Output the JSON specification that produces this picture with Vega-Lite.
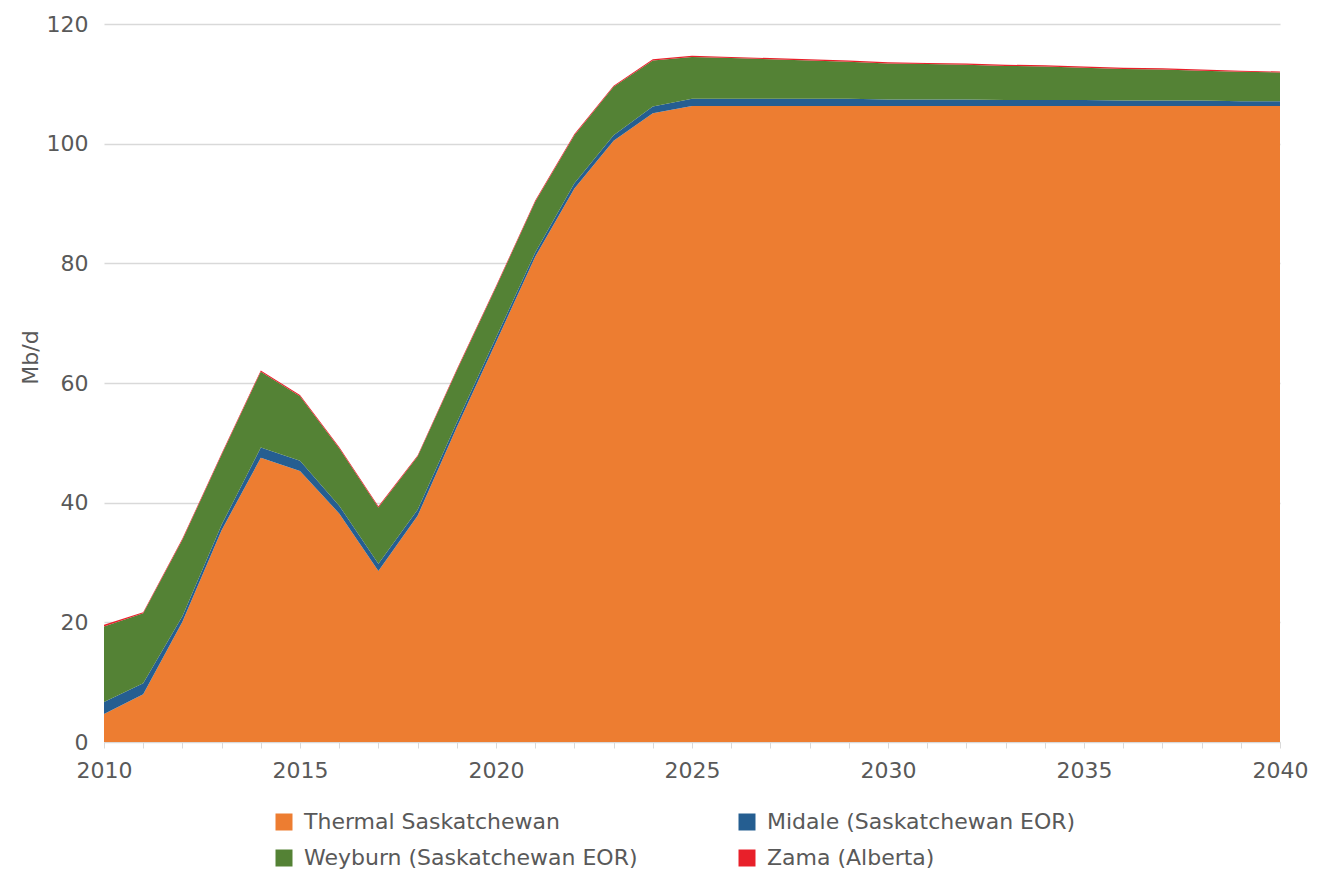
{
  "$schema": "https://vega.github.io/schema/vega-lite/v6.json",
  "width": 1176,
  "height": 718,
  "autosize": {"type": "none"},
  "padding": {"left": 104, "top": 24, "right": 50, "bottom": 136},
  "background": "white",
  "config": {
    "font": "DejaVu Sans",
    "view": {"stroke": null},
    "axis": {"labelFont": "DejaVu Sans", "titleFont": "DejaVu Sans"}
  },
  "data": {
    "values": [
      {"year": 2010, "series": "Thermal Saskatchewan", "rank": 1, "value": 4.7},
      {"year": 2010, "series": "Midale (Saskatchewan EOR)", "rank": 2, "value": 2.0},
      {"year": 2010, "series": "Weyburn (Saskatchewan EOR)", "rank": 3, "value": 12.6},
      {"year": 2010, "series": "Zama (Alberta)", "rank": 4, "value": 0.3},
      {"year": 2011, "series": "Thermal Saskatchewan", "rank": 1, "value": 8.0},
      {"year": 2011, "series": "Midale (Saskatchewan EOR)", "rank": 2, "value": 1.8},
      {"year": 2011, "series": "Weyburn (Saskatchewan EOR)", "rank": 3, "value": 11.7},
      {"year": 2011, "series": "Zama (Alberta)", "rank": 4, "value": 0.2},
      {"year": 2012, "series": "Thermal Saskatchewan", "rank": 1, "value": 20.1},
      {"year": 2012, "series": "Midale (Saskatchewan EOR)", "rank": 2, "value": 0.9},
      {"year": 2012, "series": "Weyburn (Saskatchewan EOR)", "rank": 3, "value": 12.8},
      {"year": 2012, "series": "Zama (Alberta)", "rank": 4, "value": 0.2},
      {"year": 2013, "series": "Thermal Saskatchewan", "rank": 1, "value": 35.4},
      {"year": 2013, "series": "Midale (Saskatchewan EOR)", "rank": 2, "value": 0.9},
      {"year": 2013, "series": "Weyburn (Saskatchewan EOR)", "rank": 3, "value": 11.7},
      {"year": 2013, "series": "Zama (Alberta)", "rank": 4, "value": 0.2},
      {"year": 2014, "series": "Thermal Saskatchewan", "rank": 1, "value": 47.5},
      {"year": 2014, "series": "Midale (Saskatchewan EOR)", "rank": 2, "value": 1.7},
      {"year": 2014, "series": "Weyburn (Saskatchewan EOR)", "rank": 3, "value": 12.7},
      {"year": 2014, "series": "Zama (Alberta)", "rank": 4, "value": 0.2},
      {"year": 2015, "series": "Thermal Saskatchewan", "rank": 1, "value": 45.3},
      {"year": 2015, "series": "Midale (Saskatchewan EOR)", "rank": 2, "value": 1.7},
      {"year": 2015, "series": "Weyburn (Saskatchewan EOR)", "rank": 3, "value": 10.8},
      {"year": 2015, "series": "Zama (Alberta)", "rank": 4, "value": 0.2},
      {"year": 2016, "series": "Thermal Saskatchewan", "rank": 1, "value": 38.2},
      {"year": 2016, "series": "Midale (Saskatchewan EOR)", "rank": 2, "value": 1.3},
      {"year": 2016, "series": "Weyburn (Saskatchewan EOR)", "rank": 3, "value": 9.6},
      {"year": 2016, "series": "Zama (Alberta)", "rank": 4, "value": 0.2},
      {"year": 2017, "series": "Thermal Saskatchewan", "rank": 1, "value": 28.6},
      {"year": 2017, "series": "Midale (Saskatchewan EOR)", "rank": 2, "value": 1.2},
      {"year": 2017, "series": "Weyburn (Saskatchewan EOR)", "rank": 3, "value": 9.4},
      {"year": 2017, "series": "Zama (Alberta)", "rank": 4, "value": 0.2},
      {"year": 2018, "series": "Thermal Saskatchewan", "rank": 1, "value": 37.8},
      {"year": 2018, "series": "Midale (Saskatchewan EOR)", "rank": 2, "value": 1.0},
      {"year": 2018, "series": "Weyburn (Saskatchewan EOR)", "rank": 3, "value": 8.9},
      {"year": 2018, "series": "Zama (Alberta)", "rank": 4, "value": 0.2},
      {"year": 2019, "series": "Thermal Saskatchewan", "rank": 1, "value": 52.6},
      {"year": 2019, "series": "Midale (Saskatchewan EOR)", "rank": 2, "value": 0.8},
      {"year": 2019, "series": "Weyburn (Saskatchewan EOR)", "rank": 3, "value": 8.7},
      {"year": 2019, "series": "Zama (Alberta)", "rank": 4, "value": 0.2},
      {"year": 2020, "series": "Thermal Saskatchewan", "rank": 1, "value": 66.8},
      {"year": 2020, "series": "Midale (Saskatchewan EOR)", "rank": 2, "value": 0.8},
      {"year": 2020, "series": "Weyburn (Saskatchewan EOR)", "rank": 3, "value": 8.4},
      {"year": 2020, "series": "Zama (Alberta)", "rank": 4, "value": 0.2},
      {"year": 2021, "series": "Thermal Saskatchewan", "rank": 1, "value": 81.1},
      {"year": 2021, "series": "Midale (Saskatchewan EOR)", "rank": 2, "value": 0.7},
      {"year": 2021, "series": "Weyburn (Saskatchewan EOR)", "rank": 3, "value": 8.5},
      {"year": 2021, "series": "Zama (Alberta)", "rank": 4, "value": 0.2},
      {"year": 2022, "series": "Thermal Saskatchewan", "rank": 1, "value": 92.5},
      {"year": 2022, "series": "Midale (Saskatchewan EOR)", "rank": 2, "value": 0.9},
      {"year": 2022, "series": "Weyburn (Saskatchewan EOR)", "rank": 3, "value": 8.0},
      {"year": 2022, "series": "Zama (Alberta)", "rank": 4, "value": 0.2},
      {"year": 2023, "series": "Thermal Saskatchewan", "rank": 1, "value": 100.5},
      {"year": 2023, "series": "Midale (Saskatchewan EOR)", "rank": 2, "value": 0.9},
      {"year": 2023, "series": "Weyburn (Saskatchewan EOR)", "rank": 3, "value": 8.1},
      {"year": 2023, "series": "Zama (Alberta)", "rank": 4, "value": 0.2},
      {"year": 2024, "series": "Thermal Saskatchewan", "rank": 1, "value": 105.1},
      {"year": 2024, "series": "Midale (Saskatchewan EOR)", "rank": 2, "value": 1.1},
      {"year": 2024, "series": "Weyburn (Saskatchewan EOR)", "rank": 3, "value": 7.7},
      {"year": 2024, "series": "Zama (Alberta)", "rank": 4, "value": 0.2},
      {"year": 2025, "series": "Thermal Saskatchewan", "rank": 1, "value": 106.3},
      {"year": 2025, "series": "Midale (Saskatchewan EOR)", "rank": 2, "value": 1.2},
      {"year": 2025, "series": "Weyburn (Saskatchewan EOR)", "rank": 3, "value": 7.0},
      {"year": 2025, "series": "Zama (Alberta)", "rank": 4, "value": 0.2},
      {"year": 2026, "series": "Thermal Saskatchewan", "rank": 1, "value": 106.3},
      {"year": 2026, "series": "Midale (Saskatchewan EOR)", "rank": 2, "value": 1.2},
      {"year": 2026, "series": "Weyburn (Saskatchewan EOR)", "rank": 3, "value": 6.8},
      {"year": 2026, "series": "Zama (Alberta)", "rank": 4, "value": 0.2},
      {"year": 2027, "series": "Thermal Saskatchewan", "rank": 1, "value": 106.3},
      {"year": 2027, "series": "Midale (Saskatchewan EOR)", "rank": 2, "value": 1.2},
      {"year": 2027, "series": "Weyburn (Saskatchewan EOR)", "rank": 3, "value": 6.6},
      {"year": 2027, "series": "Zama (Alberta)", "rank": 4, "value": 0.2},
      {"year": 2028, "series": "Thermal Saskatchewan", "rank": 1, "value": 106.3},
      {"year": 2028, "series": "Midale (Saskatchewan EOR)", "rank": 2, "value": 1.2},
      {"year": 2028, "series": "Weyburn (Saskatchewan EOR)", "rank": 3, "value": 6.4},
      {"year": 2028, "series": "Zama (Alberta)", "rank": 4, "value": 0.2},
      {"year": 2029, "series": "Thermal Saskatchewan", "rank": 1, "value": 106.3},
      {"year": 2029, "series": "Midale (Saskatchewan EOR)", "rank": 2, "value": 1.2},
      {"year": 2029, "series": "Weyburn (Saskatchewan EOR)", "rank": 3, "value": 6.2},
      {"year": 2029, "series": "Zama (Alberta)", "rank": 4, "value": 0.2},
      {"year": 2030, "series": "Thermal Saskatchewan", "rank": 1, "value": 106.3},
      {"year": 2030, "series": "Midale (Saskatchewan EOR)", "rank": 2, "value": 1.1},
      {"year": 2030, "series": "Weyburn (Saskatchewan EOR)", "rank": 3, "value": 6.0},
      {"year": 2030, "series": "Zama (Alberta)", "rank": 4, "value": 0.2},
      {"year": 2031, "series": "Thermal Saskatchewan", "rank": 1, "value": 106.3},
      {"year": 2031, "series": "Midale (Saskatchewan EOR)", "rank": 2, "value": 1.1},
      {"year": 2031, "series": "Weyburn (Saskatchewan EOR)", "rank": 3, "value": 5.9},
      {"year": 2031, "series": "Zama (Alberta)", "rank": 4, "value": 0.2},
      {"year": 2032, "series": "Thermal Saskatchewan", "rank": 1, "value": 106.3},
      {"year": 2032, "series": "Midale (Saskatchewan EOR)", "rank": 2, "value": 1.1},
      {"year": 2032, "series": "Weyburn (Saskatchewan EOR)", "rank": 3, "value": 5.8},
      {"year": 2032, "series": "Zama (Alberta)", "rank": 4, "value": 0.2},
      {"year": 2033, "series": "Thermal Saskatchewan", "rank": 1, "value": 106.3},
      {"year": 2033, "series": "Midale (Saskatchewan EOR)", "rank": 2, "value": 1.0},
      {"year": 2033, "series": "Weyburn (Saskatchewan EOR)", "rank": 3, "value": 5.7},
      {"year": 2033, "series": "Zama (Alberta)", "rank": 4, "value": 0.2},
      {"year": 2034, "series": "Thermal Saskatchewan", "rank": 1, "value": 106.3},
      {"year": 2034, "series": "Midale (Saskatchewan EOR)", "rank": 2, "value": 1.0},
      {"year": 2034, "series": "Weyburn (Saskatchewan EOR)", "rank": 3, "value": 5.6},
      {"year": 2034, "series": "Zama (Alberta)", "rank": 4, "value": 0.2},
      {"year": 2035, "series": "Thermal Saskatchewan", "rank": 1, "value": 106.3},
      {"year": 2035, "series": "Midale (Saskatchewan EOR)", "rank": 2, "value": 1.0},
      {"year": 2035, "series": "Weyburn (Saskatchewan EOR)", "rank": 3, "value": 5.4},
      {"year": 2035, "series": "Zama (Alberta)", "rank": 4, "value": 0.2},
      {"year": 2036, "series": "Thermal Saskatchewan", "rank": 1, "value": 106.3},
      {"year": 2036, "series": "Midale (Saskatchewan EOR)", "rank": 2, "value": 0.9},
      {"year": 2036, "series": "Weyburn (Saskatchewan EOR)", "rank": 3, "value": 5.3},
      {"year": 2036, "series": "Zama (Alberta)", "rank": 4, "value": 0.2},
      {"year": 2037, "series": "Thermal Saskatchewan", "rank": 1, "value": 106.3},
      {"year": 2037, "series": "Midale (Saskatchewan EOR)", "rank": 2, "value": 0.9},
      {"year": 2037, "series": "Weyburn (Saskatchewan EOR)", "rank": 3, "value": 5.2},
      {"year": 2037, "series": "Zama (Alberta)", "rank": 4, "value": 0.2},
      {"year": 2038, "series": "Thermal Saskatchewan", "rank": 1, "value": 106.3},
      {"year": 2038, "series": "Midale (Saskatchewan EOR)", "rank": 2, "value": 0.9},
      {"year": 2038, "series": "Weyburn (Saskatchewan EOR)", "rank": 3, "value": 5.0},
      {"year": 2038, "series": "Zama (Alberta)", "rank": 4, "value": 0.2},
      {"year": 2039, "series": "Thermal Saskatchewan", "rank": 1, "value": 106.3},
      {"year": 2039, "series": "Midale (Saskatchewan EOR)", "rank": 2, "value": 0.8},
      {"year": 2039, "series": "Weyburn (Saskatchewan EOR)", "rank": 3, "value": 4.9},
      {"year": 2039, "series": "Zama (Alberta)", "rank": 4, "value": 0.2},
      {"year": 2040, "series": "Thermal Saskatchewan", "rank": 1, "value": 106.3},
      {"year": 2040, "series": "Midale (Saskatchewan EOR)", "rank": 2, "value": 0.8},
      {"year": 2040, "series": "Weyburn (Saskatchewan EOR)", "rank": 3, "value": 4.8},
      {"year": 2040, "series": "Zama (Alberta)", "rank": 4, "value": 0.15}
    ]
  },
  "mark": {"type": "area", "opacity": 1},
  "encoding": {
    "x": {
      "field": "year",
      "type": "quantitative",
      "scale": {"domain": [2010, 2040], "nice": false, "zero": false},
      "axis": {
        "title": null,
        "values": [2010, 2011, 2012, 2013, 2014, 2015, 2016, 2017, 2018, 2019, 2020, 2021, 2022, 2023, 2024, 2025, 2026, 2027, 2028, 2029, 2030, 2031, 2032, 2033, 2034, 2035, 2036, 2037, 2038, 2039, 2040],
        "format": "d",
        "labelExpr": "datum.value % 5 === 0 ? datum.label : ''",
        "labelOverlap": false,
        "labelFlush": false,
        "labelFontSize": 22,
        "labelColor": "#595959",
        "labelPadding": 12,
        "tickColor": "#d9d9d9",
        "tickSize": 6,
        "domainColor": "#d9d9d9",
        "domainWidth": 1,
        "grid": false
      }
    },
    "y": {
      "field": "value",
      "type": "quantitative",
      "stack": "zero",
      "scale": {"domain": [0, 120], "nice": false},
      "axis": {
        "title": "Mb/d",
        "titleFontSize": 22,
        "titleFontWeight": "normal",
        "titleColor": "#595959",
        "titleAngle": -90,
        "titleX": -74,
        "titleY": 333,
        "titleAlign": "center",
        "titleBaseline": "middle",
        "values": [0, 20, 40, 60, 80, 100, 120],
        "labelFontSize": 22,
        "labelColor": "#595959",
        "labelPadding": 16,
        "ticks": false,
        "tickSize": 0,
        "domain": false,
        "grid": true,
        "gridColor": "#d9d9d9",
        "gridWidth": 1.3
      }
    },
    "color": {
      "field": "series",
      "type": "nominal",
      "scale": {
        "domain": ["Thermal Saskatchewan", "Midale (Saskatchewan EOR)", "Weyburn (Saskatchewan EOR)", "Zama (Alberta)"],
        "range": ["#ED7D31", "#255E91", "#548235", "#E8202A"]
      },
      "legend": {
        "title": null,
        "orient": "none",
        "legendX": 169,
        "legendY": 787,
        "columns": 2,
        "direction": "horizontal",
        "columnPadding": 98,
        "rowPadding": 14,
        "padding": 0,
        "symbolType": "square",
        "symbolSize": 289,
        "symbolStrokeWidth": 0,
        "symbolOpacity": 1,
        "labelFontSize": 22,
        "labelColor": "#595959",
        "labelOffset": 9,
        "labelLimit": 600
      }
    },
    "order": {"field": "rank", "type": "quantitative", "sort": "ascending"}
  }
}
